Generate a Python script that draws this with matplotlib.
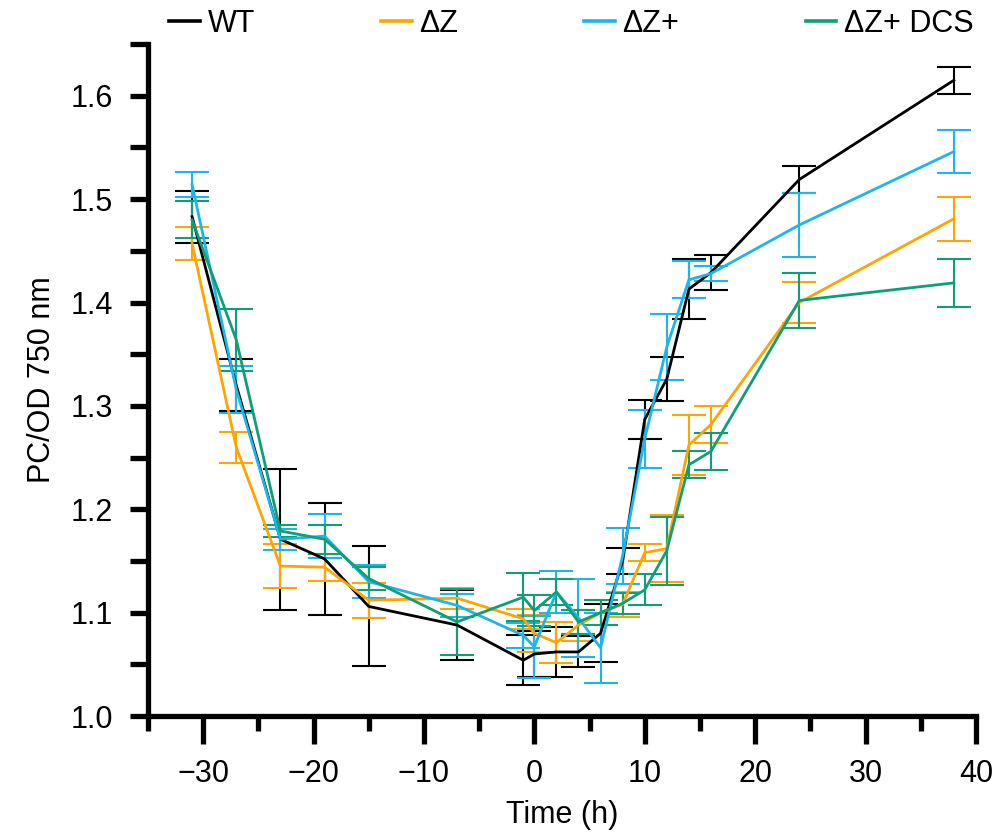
import numpy as np
import matplotlib.pyplot as plt
from matplotlib.ticker import MultipleLocator, FormatStrFormatter

plt.rcParams['font.family'] = ['Liberation Sans', 'DejaVu Sans']

time_h = [-31, -27, -23, -19, -15, -7, -1, 0, 2, 4, 6, 8, 10, 12, 14, 16, 24, 38]

wt = [1.483, 1.320, 1.171, 1.152, 1.106, 1.088, 1.054, 1.060, 1.062, 1.062, 1.080, 1.150,
      1.287, 1.326, 1.413, 1.429, 1.519, 1.615]
wt_err = [0.025, 0.025, 0.068, 0.054, 0.058, 0.034, 0.024, 0.022, 0.024, 0.015, 0.028, 0.013,
          0.019, 0.021, 0.029, 0.017, 0.013, 0.013]

dz = [1.457, 1.260, 1.145, 1.144, 1.112, 1.114, 1.094, 1.080, 1.071, 1.088, 1.100, 1.108,
      1.158, 1.162, 1.262, 1.282, 1.400, 1.481]
dz_err = [0.016, 0.015, 0.021, 0.013, 0.017, 0.010, 0.010, 0.018, 0.020, 0.015, 0.012, 0.012,
          0.008, 0.032, 0.029, 0.018, 0.020, 0.021]

dzp = [1.514, 1.316, 1.171, 1.174, 1.130, 1.107, 1.078, 1.067, 1.120, 1.095, 1.066, 1.155,
       1.268, 1.357, 1.422, 1.428, 1.475, 1.546]
dzp_err = [0.012, 0.023, 0.010, 0.021, 0.016, 0.011, 0.012, 0.030, 0.020, 0.038, 0.034, 0.027,
           0.028, 0.032, 0.018, 0.007, 0.031, 0.021]

dcs = [1.480, 1.364, 1.179, 1.171, 1.133, 1.091, 1.115, 1.102, 1.120, 1.091, 1.100, 1.109,
       1.122, 1.160, 1.243, 1.256, 1.402, 1.419]
dcs_err = [0.018, 0.030, 0.006, 0.014, 0.011, 0.032, 0.023, 0.015, 0.013, 0.012, 0.012, 0.010,
           0.015, 0.033, 0.013, 0.018, 0.027, 0.023]

labels = ['WT', 'ΔZ', 'ΔZ+', 'ΔZ+ DCS']
colors = ['#000000', '#FFA400', '#1CB6E8', '#0F9E78']

fig = plt.figure(figsize=(10.03, 8.32), dpi=100)
ax = fig.add_axes([0.1475, 0.1394, 0.8255, 0.8076])

for y, e, c, lab in zip([wt, dz, dzp, dcs], [wt_err, dz_err, dzp_err, dcs_err], colors, labels):
    ax.errorbar(time_h, y, yerr=e, color=c, lw=2.0, elinewidth=1.5, capsize=12,
                capthick=1.5, label=lab)

ax.set_xlim(-35, 40)
ax.set_ylim(1.0, 1.65)
ax.xaxis.set_major_locator(MultipleLocator(10))
ax.xaxis.set_minor_locator(MultipleLocator(5))
ax.yaxis.set_major_locator(MultipleLocator(0.1))
ax.yaxis.set_minor_locator(MultipleLocator(0.05))
ax.yaxis.set_major_formatter(FormatStrFormatter('%.1f'))

for s in ['top', 'right']:
    ax.spines[s].set_visible(False)
for s in ['left', 'bottom']:
    ax.spines[s].set_linewidth(3.8)

ax.tick_params(axis='x', which='major', length=20, width=3.8, labelsize=22, pad=11)
ax.tick_params(axis='x', which='minor', length=11, width=3.8)
ax.tick_params(axis='y', which='major', length=13, width=3.8, labelsize=22, pad=12)
ax.tick_params(axis='y', which='minor', length=13, width=3.8)

ax.set_xlabel('Time (h)', fontsize=22, labelpad=8)
ax.set_ylabel('PC/OD 750 nm', fontsize=22, labelpad=10)

leg = ax.legend(handles=[plt.Line2D([], [], color=c, lw=2.6) for c in colors], labels=labels,
                loc='center left', bbox_to_anchor=(0.011, 1.03), ncol=4, frameon=False,
                fontsize=22, handlelength=1.0, handletextpad=0.25, columnspacing=4.13,
                borderaxespad=0)

fig.savefig('out.png', dpi=100)
